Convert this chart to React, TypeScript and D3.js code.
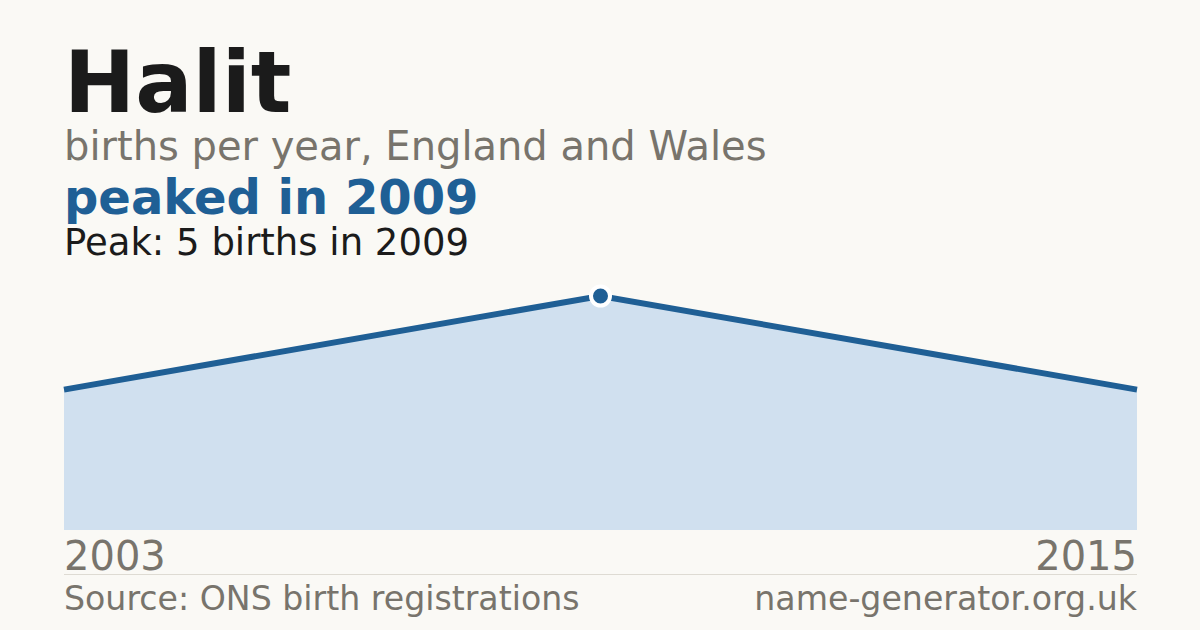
import React, { useEffect, useRef } from 'react';
import * as d3 from 'd3';

// births per year (only the years that were recorded)
const years = [2003, 2009, 2015];
const births = [3, 5, 3];
const peakYear = 2009;
const peakValue = 5;

const W = 1200;
const H = 630;
const BG = '#faf9f5';
const BLUE = '#1f5f95';
const FILL = '#d0e0ef';
const GREY = '#78746c';
const FONT = '"DejaVu Sans", sans-serif';

export default function App() {
  const svgRef = useRef<SVGSVGElement>(null);

  useEffect(() => {
    if (!svgRef.current) return;
    const svg = d3.select(svgRef.current);
    svg.selectAll('*').remove();

    svg.append('rect').attr('width', W).attr('height', H).attr('fill', BG);

    const left = 64;
    const right = 1137;

    // header texts
    const header = [
      { t: 'Halit', y: 112, size: 85, weight: 'bold', fill: '#1b1b1b' },
      { t: 'births per year, England and Wales', y: 160, size: 40, weight: 'normal', fill: GREY },
      { t: 'peaked in 2009', y: 214, size: 48, weight: 'bold', fill: BLUE },
      { t: `Peak: ${peakValue} births in ${peakYear}`, y: 255, size: 37, weight: 'normal', fill: '#1b1b1b' },
    ];
    header.forEach(h => {
      svg.append('text')
        .attr('x', left)
        .attr('y', h.y)
        .attr('font-family', FONT)
        .attr('font-size', h.size)
        .attr('font-weight', h.weight)
        .attr('fill', h.fill)
        .text(h.t);
    });

    const x = d3.scaleLinear().domain([years[0], years[years.length - 1]]).range([left, right]);
    const y = d3.scaleLinear().domain([0, peakValue]).range([530, 296]);

    const pts = years.map((yr, i) => ({ yr, v: births[i] }));

    const area = d3.area<{ yr: number; v: number }>()
      .x(d => x(d.yr))
      .y0(y(0))
      .y1(d => y(d.v));
    svg.append('path').attr('d', area(pts) || '').attr('fill', FILL);

    const line = d3.line<{ yr: number; v: number }>()
      .x(d => x(d.yr))
      .y(d => y(d.v));
    svg.append('path')
      .attr('d', line(pts) || '')
      .attr('fill', 'none')
      .attr('stroke', BLUE)
      .attr('stroke-width', 6);

    svg.append('circle')
      .attr('cx', x(peakYear))
      .attr('cy', y(peakValue))
      .attr('r', 9.5)
      .attr('fill', BLUE)
      .attr('stroke', '#ffffff')
      .attr('stroke-width', 4);

    // year labels
    svg.append('text')
      .attr('x', left).attr('y', 570)
      .attr('font-family', FONT).attr('font-size', 40).attr('fill', GREY)
      .text(String(years[0]));
    svg.append('text')
      .attr('x', right).attr('y', 570)
      .attr('text-anchor', 'end')
      .attr('font-family', FONT).attr('font-size', 40).attr('fill', GREY)
      .text(String(years[years.length - 1]));

    svg.append('line')
      .attr('x1', left).attr('x2', right)
      .attr('y1', 574.5).attr('y2', 574.5)
      .attr('stroke', '#dedbd3').attr('stroke-width', 1);

    svg.append('text')
      .attr('x', left).attr('y', 610)
      .attr('font-family', FONT).attr('font-size', 33.2).attr('fill', GREY)
      .text('Source: ONS birth registrations');
    svg.append('text')
      .attr('x', right).attr('y', 610)
      .attr('text-anchor', 'end')
      .attr('font-family', FONT).attr('font-size', 33.2).attr('fill', GREY)
      .text('name-generator.org.uk');
  }, []);

  return (
    <svg
      ref={svgRef}
      width={W}
      height={H}
      style={{ position: 'fixed', left: 0, top: 0, display: 'block' }}
    />
  );
}
